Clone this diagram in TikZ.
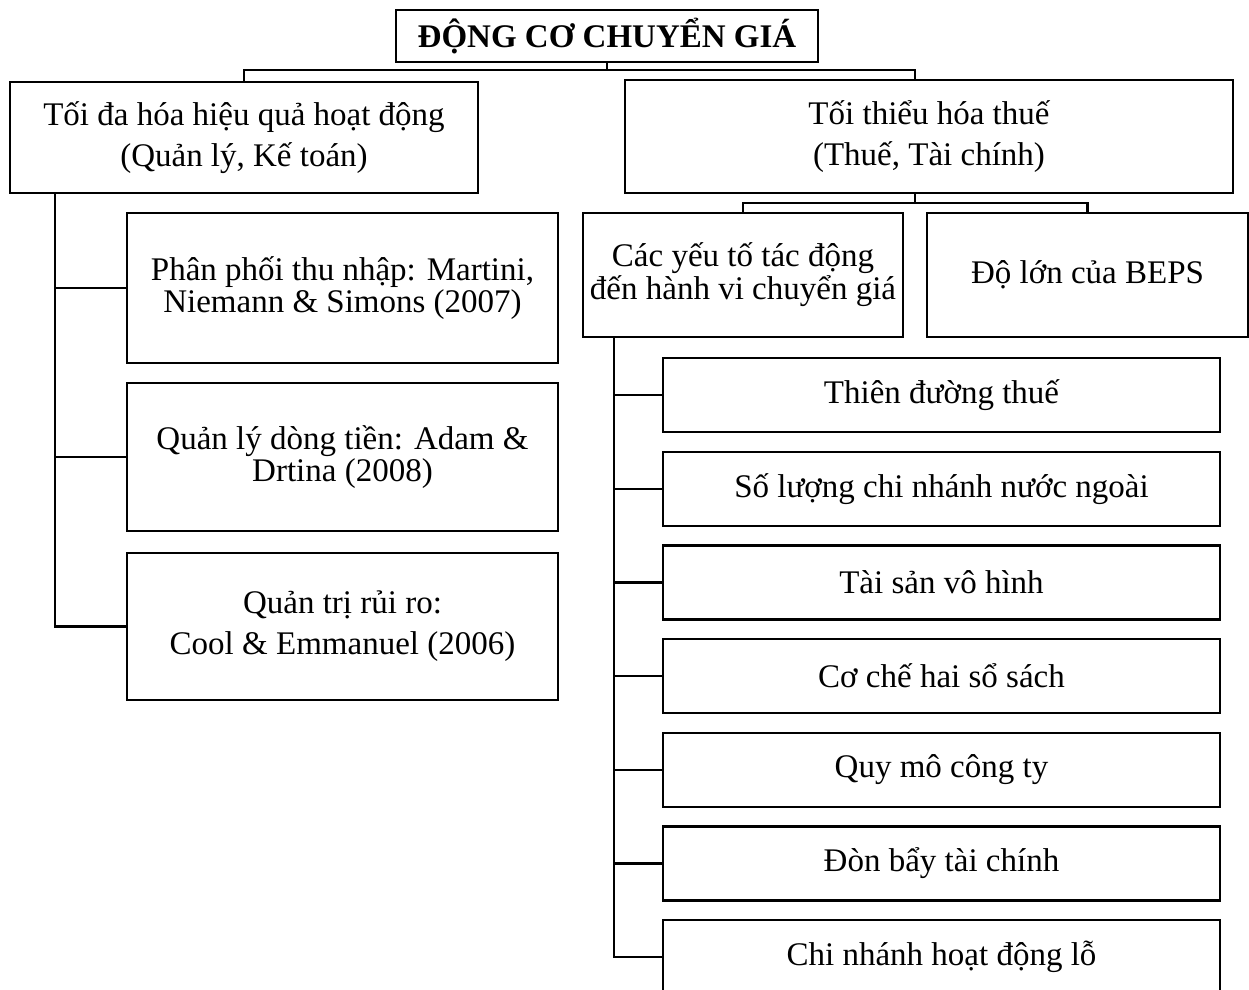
\documentclass[tikz,border=0pt]{standalone}
\usepackage{fontspec}
\setmainfont{Liberation Serif}
\usetikzlibrary{positioning,calc}
\tikzset{
    box/.style={
        rectangle,
        draw=black,
        line width=1.2pt,
        align=center,
        inner sep=2pt,
        font=\fontsize{16.5}{20.5}\selectfont,
    },
    tight/.style={
        font=\fontsize{16.5}{14.5}\selectfont,
    },
    titlebox/.style={
        box,
        minimum width=211pt,
        minimum height=26pt,
        font=\bfseries\fontsize{16.5}{18}\selectfont,
    },
    leafbox/.style={
        box,
        minimum width=278.5pt,
        minimum height=37pt,
    },
    link/.style={
        line width=1.2pt,
    },
}

\begin{document}
\begin{tikzpicture}[x=0.5pt,y=-0.5pt]
    \useasboundingbox (0,0) rectangle (1249,990);

    \node[titlebox] (motive) at (607,36) {ĐỘNG CƠ CHUYỂN GIÁ};

    \node[box, minimum width=234pt, minimum height=55.5pt] (maxeff) at (244,137.5) {Tối đa hóa hiệu quả hoạt động\\(Quản lý, Kế toán)};
    \node[box, minimum width=304pt, minimum height=56.5pt] (mintax) at (929,136.5) {Tối thiểu hóa thuế\\(Thuế, Tài chính)};

    % left branch
    \node[box, tight, minimum width=215.5pt, minimum height=75pt] (income) at (342.5,288) {Phân phối thu nhập: Martini,\\Niemann \& Simons (2007)};
    \node[box, tight, minimum width=215.5pt, minimum height=74pt] (cash) at (342.5,457) {Quản lý dòng tiền: Adam \&\\Drtina (2008)};
    \node[box, minimum width=215.5pt, minimum height=73.5pt] (risk) at (342.5,626.5) {Quản trị rủi ro:\\Cool \& Emmanuel (2006)};

    % right branch
    \node[box, tight, minimum width=160pt, minimum height=62pt] (factors) at (743,275) {Các yếu tố tác động\\đến hành vi chuyển giá};
    \node[box, minimum width=160.5pt, minimum height=62pt] (beps) at (1087.5,275) {Độ lớn của BEPS};

    \foreach \t [count=\i] in {Thiên đường thuế, Số lượng chi nhánh nước ngoài, Tài sản vô hình, Cơ chế hai sổ sách, Quy mô công ty, Đòn bẩy tài chính, Chi nhánh hoạt động lỗ}
        \node[leafbox] (f\i) at (941.5,{395+93.7*(\i-1)}) {\t};

    % connectors
    \coordinate (topbus) at (607,70);
    \draw[link] (motive.south) -- (topbus);
    \draw[link] (maxeff.north) |- (topbus) -| ([xshift=-7pt]mintax.north);

    \coordinate (subbus) at (915,203);
    \draw[link] ([xshift=-7pt]mintax.south) -- (subbus);
    \draw[link] (factors.north) |- (subbus) -| (beps.north);

    \coordinate (ltrunk) at (55,193);
    \draw[link] (ltrunk) |- (risk.west);
    \foreach \n in {income,cash}
        \draw[link] (\n.west) -- (\n.west -| ltrunk);

    \coordinate (rtrunk) at (614,337);
    \draw[link] (rtrunk) |- (f7.west);
    \foreach \i in {1,...,6}
        \draw[link] (f\i.west) -- (f\i.west -| rtrunk);
\end{tikzpicture}
\end{document}
